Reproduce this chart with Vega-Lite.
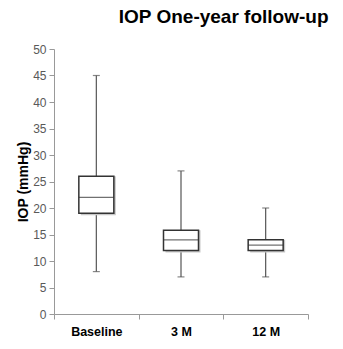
{
  "$schema": "https://vega.github.io/schema/vega-lite/v6.json",
  "autosize": "none",
  "width": 254,
  "height": 265,
  "padding": {"left": 54, "top": 49, "right": 35, "bottom": 35},
  "background": "white",
  "title": {"text": "IOP One-year follow-up", "anchor": "end", "fontSize": 19, "fontWeight": "bold", "font": "Liberation Sans", "color": "#000000", "offset": 16, "dx": 20},
  "config": {"view": {"stroke": null}, "font": "Liberation Sans",
    "axisY": {"grid": false, "titleFontWeight": "bold", "titleFontSize": 14, "titleColor": "#000000", "titlePadding": 2, "labelColor": "#595959", "labelFontSize": 12, "domainColor": "#999999", "tickColor": "#999999", "tickSize": 5, "labelPadding": 3, "labelOverlap": false}},
  "data": {"values": [
    {"group": "Baseline", "min": 8, "q1": 19, "median": 22, "q3": 26, "max": 45},
    {"group": "3 M", "min": 7, "q1": 12, "median": 14, "q3": 15.8, "max": 27},
    {"group": "12 M", "min": 7, "q1": 12, "median": 13, "q3": 14, "max": 20}
  ]},
  "encoding": {
    "x": {"field": "group", "type": "nominal", "sort": ["Baseline", "3 M", "12 M"], "title": null,
      "axis": {"labelAngle": 0, "labelFontWeight": "bold", "labelColor": "#000000", "labelFontSize": 12.5, "labelPadding": 6, "tickBand": "extent", "domainColor": "#999999", "tickColor": "#999999", "tickSize": 5, "grid": false}}
  },
  "layer": [
    {"mark": {"type": "rule", "color": "#555555", "strokeWidth": 1.2},
     "encoding": {"y": {"field": "min", "type": "quantitative", "scale": {"domain": [0, 50]},
        "axis": {"values": [0,5,10,15,20,25,30,35,40,45,50], "title": "IOP (mmHg)"}},
       "y2": {"field": "max"}}},
    {"mark": {"type": "tick", "color": "#555555", "size": 7, "thickness": 1.2, "orient": "horizontal"},
     "encoding": {"y": {"field": "min", "type": "quantitative", "axis": {"values": [0,5,10,15,20,25,30,35,40,45,50], "title": "IOP (mmHg)"}}}},
    {"mark": {"type": "tick", "color": "#555555", "size": 7, "thickness": 1.2, "orient": "horizontal"},
     "encoding": {"y": {"field": "max", "type": "quantitative", "axis": {"values": [0,5,10,15,20,25,30,35,40,45,50], "title": "IOP (mmHg)"}}}},
    {"mark": {"type": "bar", "size": 35, "color": "#c8c8c8", "xOffset": 2, "yOffset": 2},
     "encoding": {"y": {"field": "q1", "type": "quantitative", "axis": {"values": [0,5,10,15,20,25,30,35,40,45,50], "title": "IOP (mmHg)"}}, "y2": {"field": "q3"}}},
    {"mark": {"type": "bar", "size": 35, "fill": "#ffffff", "stroke": "#333333", "strokeWidth": 1.5},
     "encoding": {"y": {"field": "q1", "type": "quantitative", "axis": {"values": [0,5,10,15,20,25,30,35,40,45,50], "title": "IOP (mmHg)"}}, "y2": {"field": "q3"}}},
    {"mark": {"type": "tick", "color": "#333333", "size": 35, "thickness": 1.3, "orient": "horizontal"},
     "encoding": {"y": {"field": "median", "type": "quantitative", "axis": {"values": [0,5,10,15,20,25,30,35,40,45,50], "title": "IOP (mmHg)"}}}}
  ]
}
